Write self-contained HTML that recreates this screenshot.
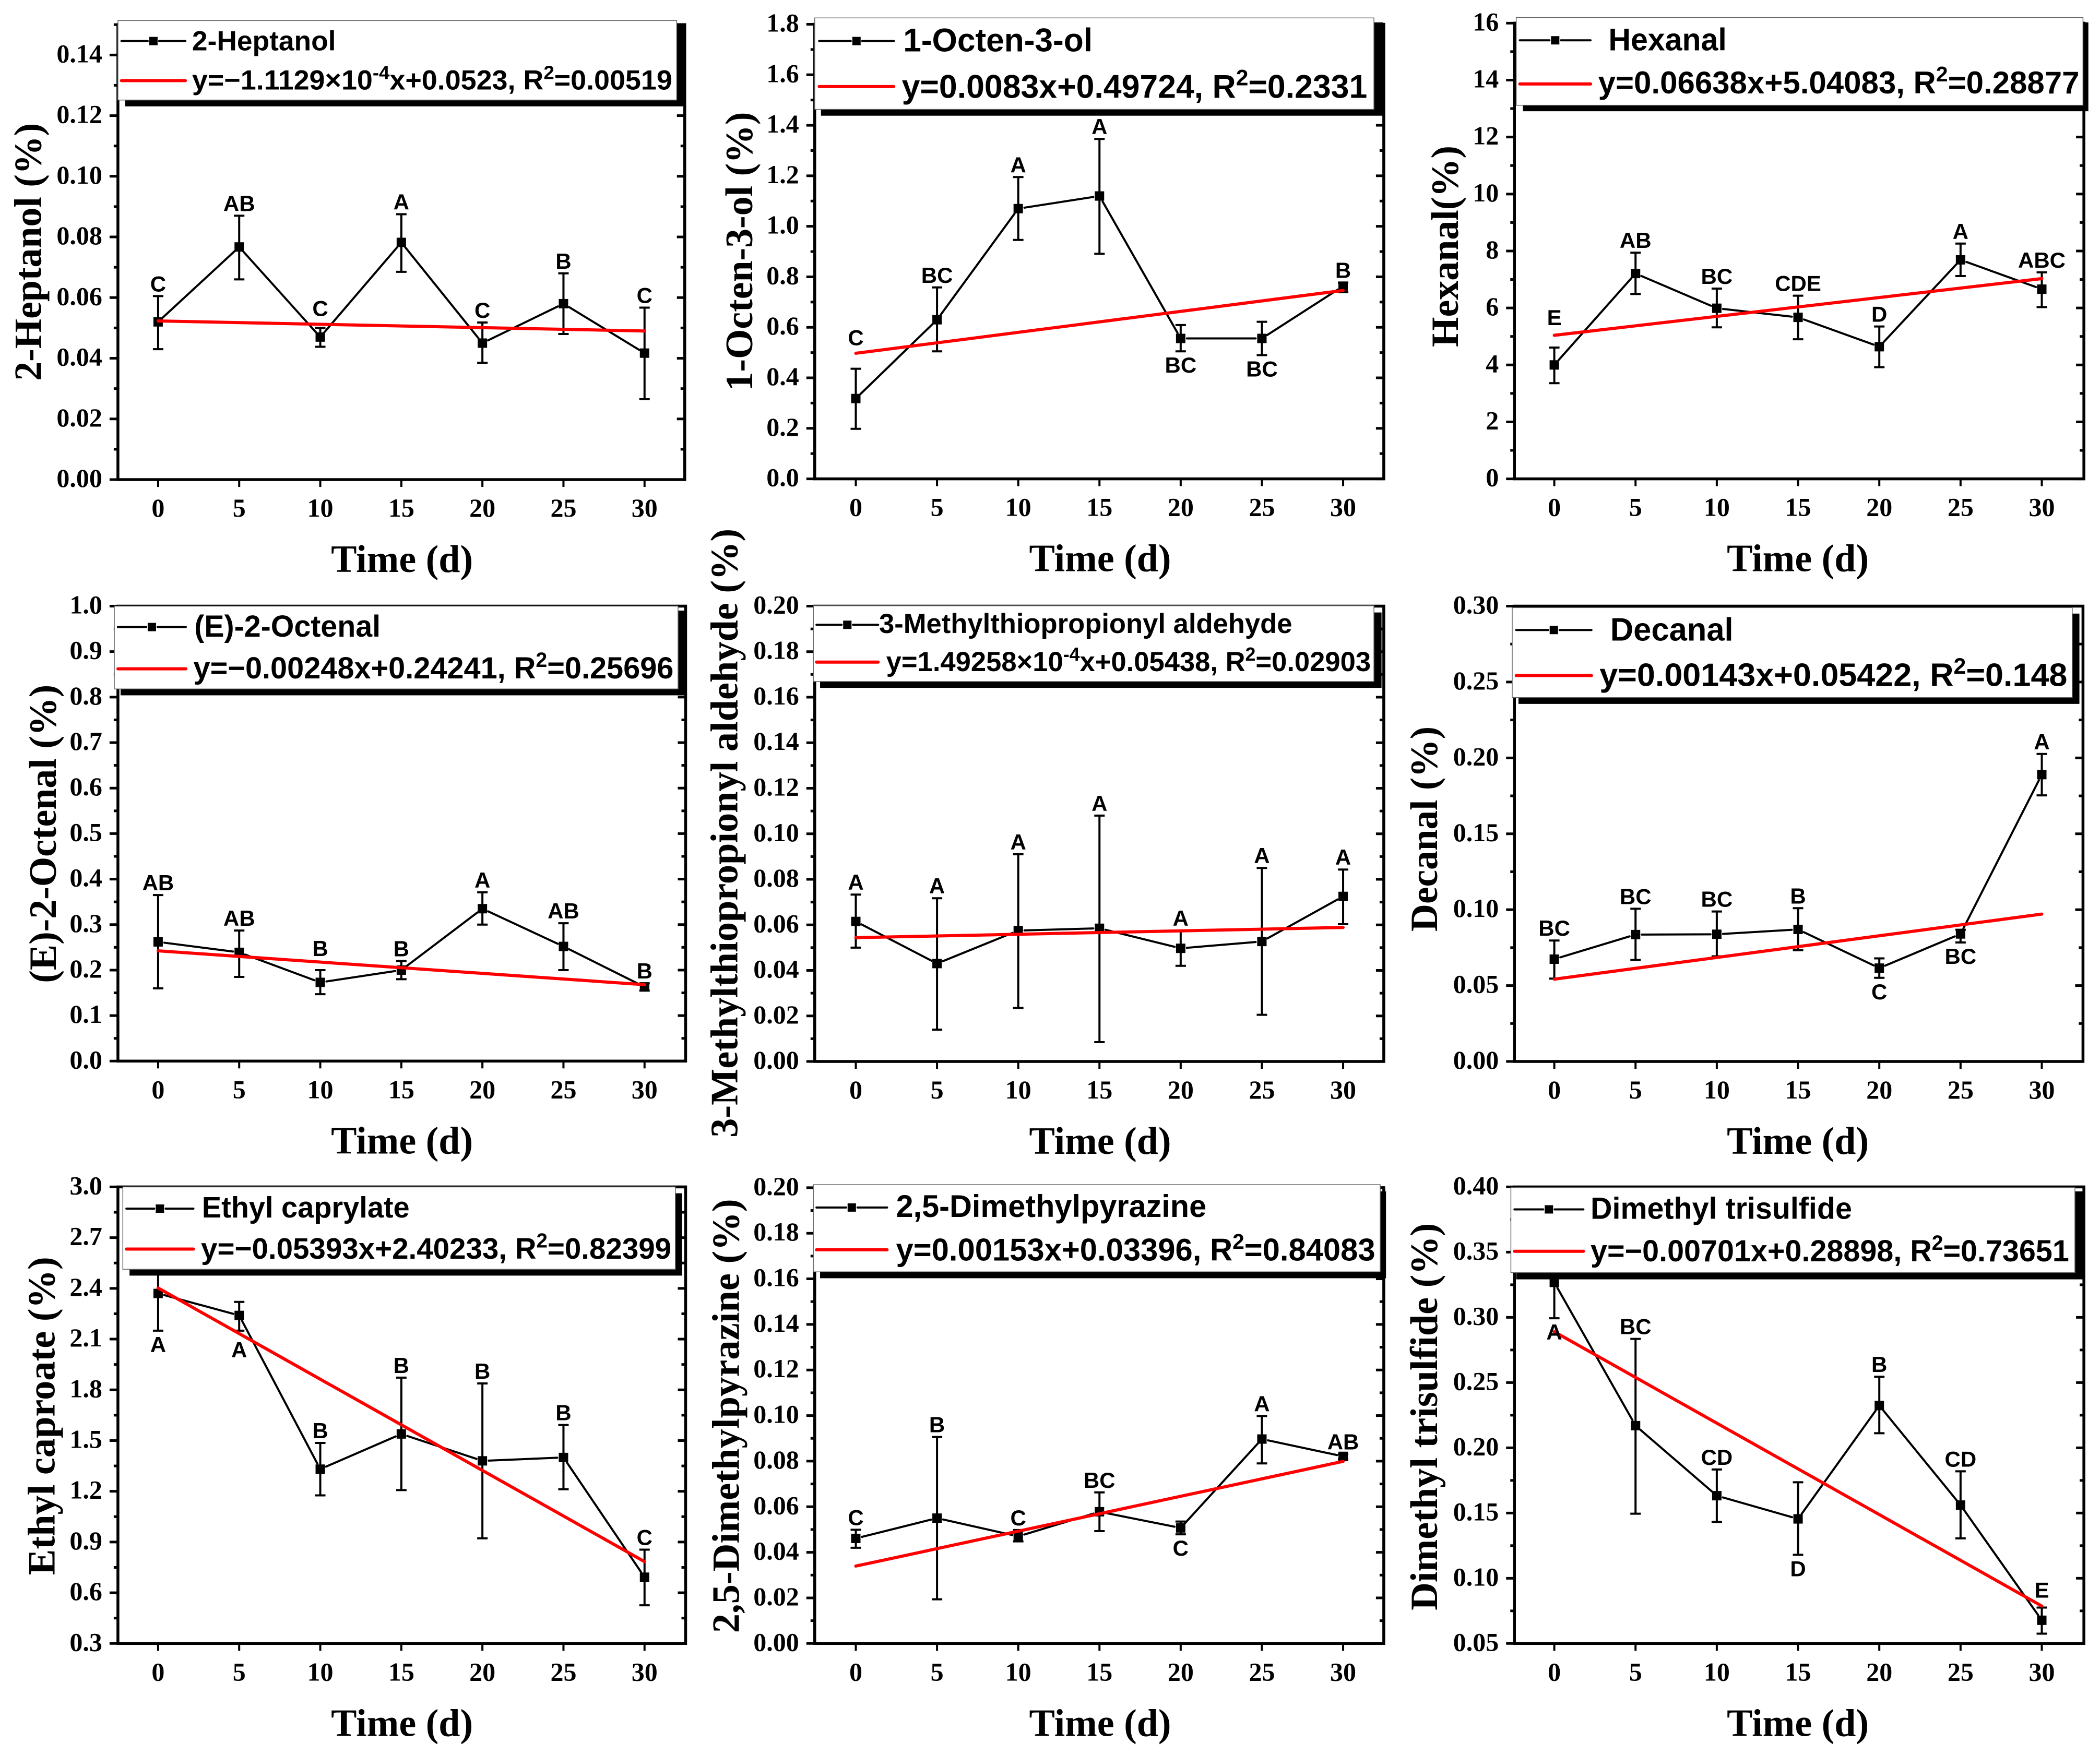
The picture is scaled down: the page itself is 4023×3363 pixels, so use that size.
<!DOCTYPE html>
<html lang="en">
<head>
<meta charset="utf-8">
<title>Volatile compounds over storage time</title>
<style>
html,body{margin:0;padding:0;background:#fff}
svg{display:block}
.tick{font-family:"Liberation Serif",serif;font-weight:bold;font-size:50px;fill:#000}
.title{font-family:"Liberation Serif",serif;font-weight:bold;font-size:74px;fill:#000}
.letter{font-family:"Liberation Sans",sans-serif;font-weight:bold;font-size:42px;fill:#000}
.legend-text{font-family:"Liberation Sans",sans-serif;font-weight:bold;fill:#000}
</style>
</head>
<body>
<svg id="figure" xmlns="http://www.w3.org/2000/svg" width="4023" height="3363" viewBox="0 0 4023 3363"></svg>
<script>
const days = [0, 5, 10, 15, 20, 25, 30];

const heptanolValues = [0.052, 0.0767, 0.047, 0.0782, 0.045, 0.058, 0.0417];
const heptanolUpper = [0.0605, 0.087, 0.05, 0.0875, 0.0518, 0.068, 0.0567];
const heptanolLower = [0.043, 0.066, 0.0438, 0.0685, 0.0385, 0.048, 0.0265];
const heptanolLetters = ['C', 'AB', 'C', 'A', 'C', 'B', 'C'];
const heptanolSides = ['up', 'up', 'up', 'up', 'up', 'up', 'up'];
const heptanolTrend = [0.0523, 0.0490];
const heptanolTicks = ['0.00', '0.02', '0.04', '0.06', '0.08', '0.10', '0.12', '0.14'];

const octenolValues = [0.318, 0.63, 1.07, 1.12, 0.556, 0.556, 0.763];
const octenolUpper = [0.436, 0.758, 1.195, 1.346, 0.609, 0.622, 0.777];
const octenolLower = [0.198, 0.505, 0.946, 0.891, 0.505, 0.49, 0.739];
const octenolLetters = ['C', 'BC', 'A', 'A', 'BC', 'BC', 'B'];
const octenolSides = ['up', 'up', 'up', 'up', 'down', 'down', 'up'];
const octenolTrend = [0.49724, 0.746];
const octenolTicks = ['0.0', '0.2', '0.4', '0.6', '0.8', '1.0', '1.2', '1.4', '1.6', '1.8'];

const hexanalValues = [4.0, 7.21, 5.99, 5.67, 4.64, 7.69, 6.66];
const hexanalUpper = [4.61, 7.94, 6.68, 6.43, 5.35, 8.26, 7.25];
const hexanalLower = [3.36, 6.49, 5.32, 4.9, 3.92, 7.12, 6.03];
const hexanalLetters = ['E', 'AB', 'BC', 'CDE', 'D', 'A', 'ABC'];
const hexanalSides = ['up', 'up', 'up', 'up', 'up', 'up', 'up'];
const hexanalTrend = [5.04083, 7.03];
const hexanalTicks = ['0', '2', '4', '6', '8', '10', '12', '14', '16'];

const octenalValues = [0.262, 0.239, 0.173, 0.2, 0.335, 0.252, 0.163];
const octenalUpper = [0.365, 0.287, 0.2, 0.22, 0.371, 0.303, 0.171];
const octenalLower = [0.16, 0.185, 0.147, 0.18, 0.3, 0.2, 0.155];
const octenalLetters = ['AB', 'AB', 'B', 'B', 'A', 'AB', 'B'];
const octenalSides = ['up', 'up', 'up', 'up', 'up', 'up', 'up'];
const octenalTrend = [0.24241, 0.168];
const octenalTicks = ['0.0', '0.1', '0.2', '0.3', '0.4', '0.5', '0.6', '0.7', '0.8', '0.9', '1.0'];

const methionalValues = [0.0615, 0.043, 0.0575, 0.0585, 0.0497, 0.0527, 0.0725];
const methionalUpper = [0.0733, 0.0717, 0.091, 0.108, 0.0575, 0.085, 0.0843];
const methionalLower = [0.05, 0.014, 0.0235, 0.0085, 0.042, 0.0205, 0.0603];
const methionalLetters = ['A', 'A', 'A', 'A', 'A', 'A', 'A'];
const methionalSides = ['up', 'up', 'up', 'up', 'up', 'up', 'up'];
const methionalTrend = [0.05438, 0.05886];
const methionalTicks = ['0.00', '0.02', '0.04', '0.06', '0.08', '0.10', '0.12', '0.14', '0.16', '0.18', '0.20'];

const decanalValues = [0.0674, 0.0836, 0.0838, 0.087, 0.0615, 0.084, 0.189];
const decanalUpper = [0.0797, 0.1006, 0.0988, 0.101, 0.0679, 0.0868, 0.2026];
const decanalLower = [0.0546, 0.0669, 0.0693, 0.0733, 0.0551, 0.0784, 0.1753];
const decanalLetters = ['BC', 'BC', 'BC', 'B', 'C', 'BC', 'A'];
const decanalSides = ['up', 'up', 'up', 'up', 'down', 'down', 'up'];
const decanalTrend = [0.05422, 0.0971];
const decanalTicks = ['0.00', '0.05', '0.10', '0.15', '0.20', '0.25', '0.30'];

const ethylValues = [2.37, 2.24, 1.331, 1.539, 1.38, 1.4, 0.692];
const ethylUpper = [2.55, 2.32, 1.486, 1.872, 1.838, 1.592, 0.855];
const ethylLower = [2.15, 2.15, 1.176, 1.207, 0.922, 1.212, 0.526];
const ethylLetters = ['A', 'A', 'B', 'B', 'B', 'B', 'C'];
const ethylSides = ['down', 'down', 'up', 'up', 'up', 'up', 'up'];
const ethylTrend = [2.40233, 0.784];
const ethylTicks = ['0.3', '0.6', '0.9', '1.2', '1.5', '1.8', '2.1', '2.4', '2.7', '3.0'];

const pyrazineValues = [0.0461, 0.055, 0.047, 0.0578, 0.0507, 0.0897, 0.0821];
const pyrazineUpper = [0.0499, 0.0906, 0.0498, 0.0663, 0.0535, 0.0998, 0.0831];
const pyrazineLower = [0.042, 0.0194, 0.0448, 0.0493, 0.0479, 0.079, 0.0808];
const pyrazineLetters = ['C', 'B', 'C', 'BC', 'C', 'A', 'AB'];
const pyrazineSides = ['up', 'up', 'up', 'up', 'down', 'up', 'up'];
const pyrazineTrend = [0.03396, 0.0799];
const pyrazineTicks = ['0.00', '0.02', '0.04', '0.06', '0.08', '0.10', '0.12', '0.14', '0.16', '0.18', '0.20'];

const trisulfideValues = [0.3268, 0.217, 0.1633, 0.1455, 0.2324, 0.1561, 0.0678];
const trisulfideUpper = [0.345, 0.2835, 0.1834, 0.1736, 0.2545, 0.182, 0.0775];
const trisulfideLower = [0.2993, 0.1495, 0.1432, 0.118, 0.2112, 0.1306, 0.0575];
const trisulfideLetters = ['A', 'BC', 'CD', 'D', 'B', 'CD', 'E'];
const trisulfideSides = ['down', 'up', 'up', 'down', 'up', 'up', 'up'];
const trisulfideTrend = [0.28898, 0.0787];
const trisulfideTicks = ['0.05', '0.10', '0.15', '0.20', '0.25', '0.30', '0.35', '0.40'];

const NS = 'http://www.w3.org/2000/svg';
const figure = document.getElementById('figure');

function mk(parent, tag, attrs, name, text) {
  const el = document.createElementNS(NS, tag);
  for (const k in attrs) el.setAttribute(k, attrs[k]);
  
  
  if (text !== undefined) el.textContent = text;
  parent.appendChild(el);
  return el;
}

const charts = [
  {id:'2-heptanol', title:'2-Heptanol (%)', values:heptanolValues, upper:heptanolUpper, lower:heptanolLower, letters:heptanolLetters, sides:heptanolSides, trend:heptanolTrend, ticks:heptanolTicks, yMin:0, yMax:0.15, major:0.02,
   legendName:'2-Heptanol', eq:['y=−1.1129×10',{s:'-4'},'x+0.0523, R',{s:'2'},'=0.00519'], nudge:{2:-14},
   box:{ox:0,oy:0,cw:1340,ch:1120,L:264,R:1533,T:66,B:1285,x0:354,x30:1443,tx:900,ty:92,tc:675,tl:494},
   lg:{fs:53,box:[264,1515,55,268],sh:[280,1533,65,285],t1:[430,752,135],t2:[430,1505,240],ln:[272,415,110,216]}},
  {id:'1-octen-3-ol', title:'1-Octen-3-ol (%)', values:octenolValues, upper:octenolUpper, lower:octenolLower, letters:octenolLetters, sides:octenolSides, trend:octenolTrend, ticks:octenolTicks, yMin:0, yMax:1.8, major:0.2,
   legendName:'1-Octen-3-ol', eq:['y=0.0083x+0.49724, R',{s:'2'},'=0.2331'], nudge:{0:-36},
   box:{ox:1340,oy:0,cw:1340,ch:1120,L:258,R:1532,T:65,B:1283,x0:350,x30:1441,tx:897,ty:118,tc:674,tl:535},
   lg:{fs:63,box:[258,1510,48,293],sh:[272,1530,60,310],t1:[456,880,138],t2:[453,1495,262],ln:[268,435,110,232]}},
  {id:'hexanal', title:'Hexanal(%)', values:hexanalValues, upper:hexanalUpper, lower:hexanalLower, letters:hexanalLetters, sides:hexanalSides, trend:hexanalTrend, ticks:hexanalTicks, yMin:0, yMax:16, major:2,
   legendName:'Hexanal', eq:['y=0.06638x+5.04083, R',{s:'2'},'=0.28877'], nudge:{0:-34},
   box:{ox:2680,oy:0,cw:1343,ch:1120,L:258,R:1530,T:62,B:1283,x0:347,x30:1436,tx:891,ty:132,tc:660,tl:386},
   lg:{fs:60,box:[262,1528,47,282],sh:[277,1540,60,298],t1:[468,732,135],t2:[445,1520,250],ln:[270,428,108,225]}},
  {id:'e-2-octenal', title:'(E)-2-Octenal (%)', values:octenalValues, upper:octenalUpper, lower:octenalLower, letters:octenalLetters, sides:octenalSides, trend:octenalTrend, ticks:octenalTicks, yMin:0, yMax:1, major:0.1,
   legendName:'(E)-2-Octenal', eq:['y=−0.00248x+0.24241, R',{s:'2'},'=0.25696'], nudge:{2:-18},
   box:{ox:0,oy:1120,cw:1340,ch:1120,L:264,R:1535,T:58,B:1277,x0:354,x30:1443,tx:900,ty:125,tc:668,tl:572},
   lg:{fs:58,box:[256,1518,58,280],sh:[270,1535,70,297],t1:[435,852,140],t2:[433,1508,252],ln:[264,416,114,226]}},
  {id:'3-methylthiopropionyl-aldehyde', title:'3-Methylthiopropionyl aldehyde (%)', values:methionalValues, upper:methionalUpper, lower:methionalLower, letters:methionalLetters, sides:methionalSides, trend:methionalTrend, ticks:methionalTicks, yMin:0, yMax:0.2, major:0.02,
   legendName:'3-Methylthiopropionyl aldehyde', eq:['y=1.49258×10',{s:'-4'},'x+0.05438, R',{s:'2'},'=0.02903'], nudge:{},
   box:{ox:1340,oy:1120,cw:1340,ch:1120,L:258,R:1532,T:58,B:1278,x0:350,x30:1441,tx:897,ty:85,tc:666,tl:1167},
   lg:{fs:53,box:[255,1510,57,260],sh:[270,1527,75,277],t1:[402,1327,130],t2:[418,1503,232],ln:[262,400,108,208]}},
  {id:'decanal', title:'Decanal (%)', values:decanalValues, upper:decanalUpper, lower:decanalLower, letters:decanalLetters, sides:decanalSides, trend:decanalTrend, ticks:decanalTicks, yMin:0, yMax:0.3, major:0.05,
   legendName:'Decanal', eq:['y=0.00143x+0.05422, R',{s:'2'},'=0.148'], nudge:{},
   box:{ox:2680,oy:1120,cw:1343,ch:1120,L:258,R:1528,T:58,B:1278,x0:347,x30:1436,tx:891,ty:85,tc:655,tl:393},
   lg:{fs:62,box:[253,1504,62,303],sh:[267,1520,78,320],t1:[472,747,150],t2:[448,1493,272],ln:[262,430,122,244]}},
  {id:'ethyl-caproate', title:'Ethyl caproate (%)', values:ethylValues, upper:ethylUpper, lower:ethylLower, letters:ethylLetters, sides:ethylSides, trend:ethylTrend, ticks:ethylTicks, yMin:0.3, yMax:3, major:0.3,
   legendName:'Ethyl caprylate', eq:['y=−0.05393x+2.40233, R',{s:'2'},'=0.82399'], nudge:{1:10},
   box:{ox:0,oy:2240,cw:1340,ch:1123,L:264,R:1535,T:48,B:1268,x0:354,x30:1443,tx:900,ty:122,tc:660,tl:610},
   lg:{fs:57,box:[275,1512,48,268],sh:[290,1527,65,285],t1:[452,917,130],t2:[450,1503,240],ln:[283,433,106,214]}},
  {id:'2-5-dimethylpyrazine', title:'2,5-Dimethylpyrazine (%)', values:pyrazineValues, upper:pyrazineUpper, lower:pyrazineLower, letters:pyrazineLetters, sides:pyrazineSides, trend:pyrazineTrend, ticks:pyrazineTicks, yMin:0, yMax:0.2, major:0.02,
   legendName:'2,5-Dimethylpyrazine', eq:['y=0.00153x+0.03396, R',{s:'2'},'=0.84083'], nudge:{},
   box:{ox:1340,oy:2240,cw:1340,ch:1123,L:258,R:1532,T:50,B:1268,x0:350,x30:1441,tx:897,ty:88,tc:660,tl:832},
   lg:{fs:60,box:[255,1524,42,275],sh:[270,1537,60,292],t1:[440,1135,128],t2:[440,1513,245],ln:[262,420,103,216]}},
  {id:'dimethyl-trisulfide', title:'Dimethyl trisulfide (%)', values:trisulfideValues, upper:trisulfideUpper, lower:trisulfideLower, letters:trisulfideLetters, sides:trisulfideSides, trend:trisulfideTrend, ticks:trisulfideTicks, yMin:0.05, yMax:0.4, major:0.05,
   legendName:'Dimethyl trisulfide', eq:['y=−0.00701x+0.28898, R',{s:'2'},'=0.73651'], nudge:{6:-10},
   box:{ox:2680,oy:2240,cw:1343,ch:1123,L:258,R:1530,T:48,B:1268,x0:347,x30:1436,tx:891,ty:85,tc:662,tl:742},
   lg:{fs:58,box:[250,1510,50,277],sh:[262,1530,60,295],t1:[428,1012,133],t2:[428,1497,247],ln:[258,412,108,220]}}
];

function drawChart(c) {
  const b = c.box, g = mk(figure, 'g', {}, c.id + '-chart');
  const zx = z => b.ox + z * b.cw / 1566;
  const zy = z => b.oy + z * b.ch / 1566;
  const L = zx(b.L), R = zx(b.R), T = zy(b.T), B = zy(b.B);
  const px0 = zx(b.x0), pxU = (zx(b.x30) - px0) / 30;
  const xScale = v => px0 + v * pxU;
  const yScale = v => B - (v - c.yMin) / (c.yMax - c.yMin) * (B - T);

  // y axis ticks, generated from the tick label array
  c.ticks.forEach((lab, i) => {
    const v = parseFloat(lab), y = yScale(v);
    mk(g, 'line', {x1:L - 16, x2:L, y1:y, y2:y, stroke:'#000', 'stroke-width':5}, 'y-tick');
    mk(g, 'line', {x1:R - 15, x2:R, y1:y, y2:y, stroke:'#000', 'stroke-width':5}, 'right-tick');
    mk(g, 'text', {class:'tick', x:L - 30, y:y + 14, 'text-anchor':'end'}, 'y-tick-label', lab);
    if (i < c.ticks.length - 1 || c.yMax > v + 1e-9) {
      const my = yScale(v + c.major / 2);
      if (my >= T - 1) {
        mk(g, 'line', {x1:L - 8, x2:L, y1:my, y2:my, stroke:'#000', 'stroke-width':5}, 'y-minor-tick');
        mk(g, 'line', {x1:R - 8, x2:R, y1:my, y2:my, stroke:'#000', 'stroke-width':5}, 'right-minor-tick');
      }
    }
  });

  // x axis ticks
  days.forEach(d => {
    const x = xScale(d);
    mk(g, 'line', {x1:x, x2:x, y1:B, y2:B + 14, stroke:'#000', 'stroke-width':4}, 'x-tick');
    mk(g, 'text', {class:'tick', x:x, y:B + 71, 'text-anchor':'middle'}, 'x-tick-label', String(d));
  });

  mk(g, 'rect', {x:L, y:T, width:R - L, height:B - T, fill:'none', stroke:'#000', 'stroke-width':5.5}, 'plot-frame');
  mk(g, 'text', {class:'title', x:zx(b.tx), y:B + 177, 'text-anchor':'middle', textLength:272, lengthAdjust:'spacingAndGlyphs'}, 'x-axis-title', 'Time (d)');
  const tx = zx(b.ty), tcy = zy(b.tc);
  mk(g, 'text', {class:'title', x:tx, y:tcy, 'text-anchor':'middle', transform:'rotate(-90 ' + tx + ' ' + tcy + ')', textLength:b.tl, lengthAdjust:'spacingAndGlyphs'}, 'y-axis-title', c.title);

  // error bars
  days.forEach((d, i) => {
    const x = xScale(d), yu = yScale(c.upper[i]), yl = yScale(c.lower[i]);
    mk(g, 'line', {x1:x, x2:x, y1:yu, y2:yl, stroke:'#000', 'stroke-width':4}, 'error-bar');
    mk(g, 'line', {x1:x - 10, x2:x + 10, y1:yu, y2:yu, stroke:'#000', 'stroke-width':4}, 'error-cap-upper');
    mk(g, 'line', {x1:x - 10, x2:x + 10, y1:yl, y2:yl, stroke:'#000', 'stroke-width':4}, 'error-cap-lower');
  });

  // series segments, stopped short of the markers
  for (let i = 0; i < days.length - 1; i++) {
    const x1 = xScale(days[i]), y1 = yScale(c.values[i]), x2 = xScale(days[i + 1]), y2 = yScale(c.values[i + 1]);
    const len = Math.hypot(x2 - x1, y2 - y1), gap = Math.min(12, len / 3);
    const ux = (x2 - x1) / len, uy = (y2 - y1) / len;
    mk(g, 'line', {x1:x1 + ux * gap, y1:y1 + uy * gap, x2:x2 - ux * gap, y2:y2 - uy * gap, stroke:'#000', 'stroke-width':4, 'stroke-linecap':'round'}, 'series-segment');
  }
  days.forEach((d, i) => {
    mk(g, 'rect', {x:xScale(d) - 9, y:yScale(c.values[i]) - 9, width:18, height:18, fill:'#000'}, 'series-point');
  });

  // fitted trend line
  mk(g, 'line', {x1:xScale(days[0]), x2:xScale(days[days.length - 1]), y1:yScale(c.trend[0]), y2:yScale(c.trend[1]), stroke:'#f00', 'stroke-width':6, 'stroke-linecap':'round'}, 'trend-line');

  // significance letters
  days.forEach((d, i) => {
    const nudge = c.nudge[i] || 0;
    const y = c.sides[i] === 'up' ? yScale(c.upper[i]) - 9 + nudge : yScale(c.lower[i]) + 41 + nudge;
    mk(g, 'text', {class:'letter', x:xScale(d), y:y, 'text-anchor':'middle'}, 'significance-letter', c.letters[i]);
  });

  // legend
  const lg = c.lg, lgGroup = mk(g, 'g', {}, 'legend');
  mk(lgGroup, 'rect', {x:zx(lg.sh[0]), y:zy(lg.sh[2]), width:zx(lg.sh[1]) - zx(lg.sh[0]), height:zy(lg.sh[3]) - zy(lg.sh[2]), fill:'#000'}, 'legend-shadow');
  mk(lgGroup, 'rect', {x:zx(lg.box[0]), y:zy(lg.box[2]), width:zx(lg.box[1]) - zx(lg.box[0]), height:zy(lg.box[3]) - zy(lg.box[2]), fill:'#fff', stroke:'#666', 'stroke-width':1.5}, 'legend-box');
  const lx1 = zx(lg.ln[0]), lx2 = zx(lg.ln[1]), lmid = (lx1 + lx2) / 2, ly = zy(lg.ln[2]), ry = zy(lg.ln[3]);
  mk(lgGroup, 'line', {x1:lx1, x2:lmid - 11, y1:ly, y2:ly, stroke:'#000', 'stroke-width':4, 'stroke-linecap':'round'}, 'legend-series-line-left');
  mk(lgGroup, 'line', {x1:lmid + 11, x2:lx2, y1:ly, y2:ly, stroke:'#000', 'stroke-width':4, 'stroke-linecap':'round'}, 'legend-series-line-right');
  mk(lgGroup, 'rect', {x:lmid - 8, y:ly - 8, width:16, height:16, fill:'#000'}, 'legend-series-marker');
  mk(lgGroup, 'line', {x1:lx1, x2:lx2, y1:ry, y2:ry, stroke:'#f00', 'stroke-width':6, 'stroke-linecap':'round'}, 'legend-trend-line');
  mk(lgGroup, 'text', {class:'legend-text', x:zx(lg.t1[0]), y:zy(lg.t1[2]), 'font-size':lg.fs, textLength:zx(lg.t1[1]) - zx(lg.t1[0]), lengthAdjust:'spacingAndGlyphs'}, 'legend-series-label', c.legendName);
  const eq = mk(lgGroup, 'text', {class:'legend-text', x:zx(lg.t2[0]), y:zy(lg.t2[2]), 'font-size':lg.fs, textLength:zx(lg.t2[1]) - zx(lg.t2[0]), lengthAdjust:'spacingAndGlyphs'}, 'legend-equation');
  const rise = lg.fs * 0.38;
  let raised = false;
  c.eq.forEach(part => {
    const isSup = typeof part !== 'string';
    const attrs = isSup ? {dy:-rise, 'font-size':lg.fs * 0.68} : (raised ? {dy:rise} : {});
    mk(eq, 'tspan', attrs, isSup ? 'equation-superscript' : 'equation-text', isSup ? part.s : part);
    raised = isSup;
  });
}

charts.forEach(drawChart);
</script>
</body>
</html>
